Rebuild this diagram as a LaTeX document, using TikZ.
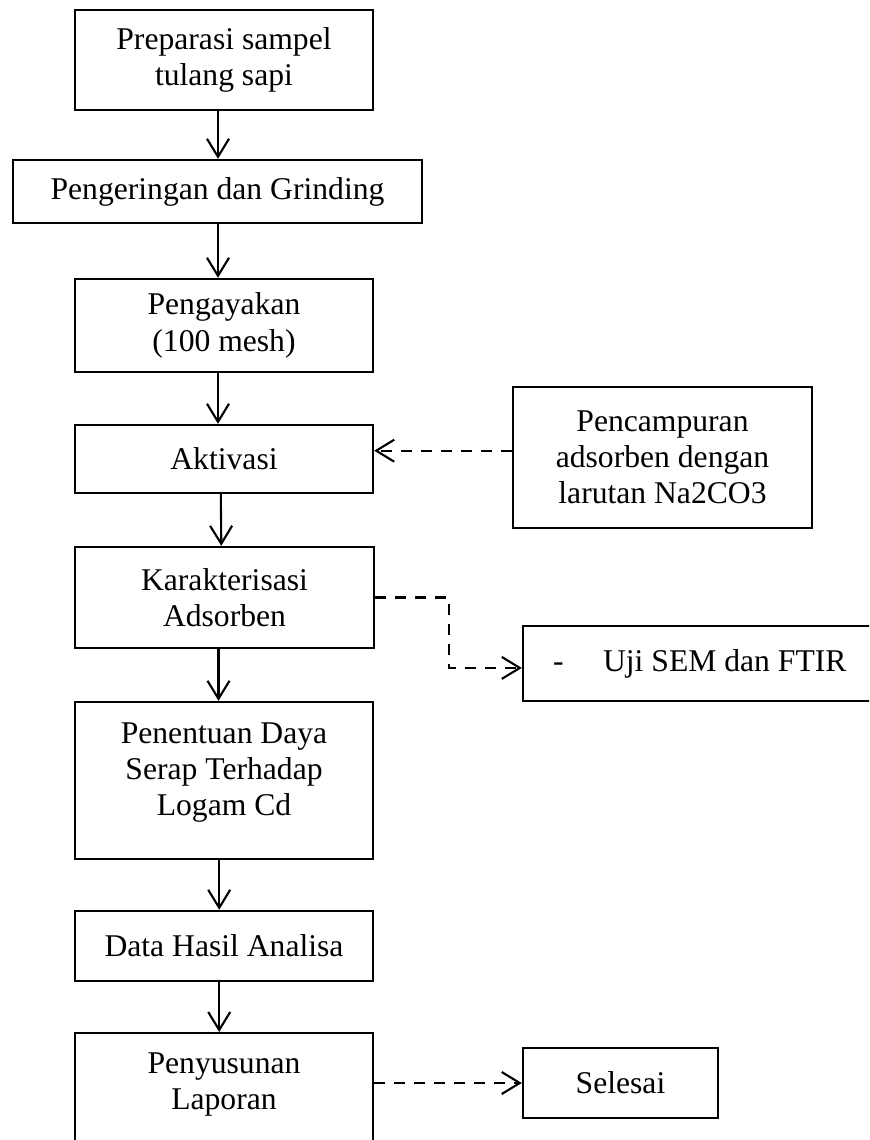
\documentclass[tikz,border=0pt]{standalone}
\usepackage{fontspec}
\setmainfont{Liberation Serif}
\usetikzlibrary{
		arrows.meta,
		positioning
	}
\tikzset{
		>={Straight Barb[length=0.45cm,width=0.55cm]},
		box/.style={draw, line width=1.7pt, align=center, inner sep=0pt,
			font=\fontsize{22.5}{25.8}\selectfont},
		flow/.style={->, line width=1.5pt},
		side/.style={->, line width=1.5pt, dash pattern=on 0.28cm off 0.22cm}
	}

\begin{document}
\begin{tikzpicture}
              \useasboundingbox (0,0) rectangle (21.725,-28.5);
              \clip (0,0) rectangle (21.725,-28.5);

              % the main steps
              \node[box, minimum width=7.45cm, minimum height=2.5cm] (prep) at (5.6,-1.5) {Preparasi sampel\\tulang sapi};
              \node[box, minimum width=10.225cm, minimum height=1.575cm] (grind) at (5.4375,-4.7875) {Pengeringan dan Grinding};
              \node[box, minimum width=7.45cm, minimum height=2.325cm] (ayak) at (5.6,-8.1375) {Pengayakan\\(100 mesh)};
              \node[box, minimum width=7.45cm, minimum height=1.7cm] (aktiv) at (5.6,-11.475) {Aktivasi};
              \node[box, minimum width=7.475cm, minimum height=2.525cm] (karak) at (5.6125,-14.9375) {Karakterisasi\\Adsorben};
              \node[box, minimum width=7.45cm, minimum height=3.925cm, text depth=16pt] (daya) at (5.6,-19.5125) {Penentuan Daya\\Serap Terhadap\\Logam Cd};
              \node[box, minimum width=7.45cm, minimum height=1.75cm] (data) at (5.6,-23.65) {Data Hasil Analisa};
              \node[box, anchor=north, minimum width=7.45cm, minimum height=3.5cm, text depth=31pt] (susun) at (5.6,-25.8) {Penyusunan\\Laporan};

              % the side boxes
              \node[box, minimum width=7.475cm, minimum height=3.525cm] (campur) at (16.5625,-11.4375) {Pencampuran\\adsorben dengan\\larutan Na2CO3};
              \node[box, minimum width=10cm, minimum height=1.875cm, text width=8.5cm, align=flush left] (uji) at (18.075,-16.5875) {-\hspace{0.99cm}Uji SEM dan FTIR};
              \node[box, minimum width=4.875cm, minimum height=1.75cm] (selesai) at (15.5125,-27.075) {Selesai};

              % draw the arrows
              \draw[flow] ([xshift=-0.15cm]prep.south) -- ([xshift=-0.15cm]prep.south |- grind.north);
              \draw[flow] ([xshift=-0.15cm]prep.south |- grind.south) -- ([xshift=-0.15cm]ayak.north);
              \draw[flow] ([xshift=-0.15cm]ayak.south) -- ([xshift=-0.15cm]aktiv.north);
              \draw[flow] ([xshift=-0.08cm]aktiv.south) -- ([xshift=-0.08cm]karak.north);
              \draw[flow] ([xshift=-0.15cm]karak.south) -- ([xshift=-0.15cm]karak.south |- daya.north);
              \draw[flow] ([xshift=-0.12cm]daya.south) -- ([xshift=-0.12cm]data.north);
              \draw[flow] ([xshift=-0.12cm]data.south) -- ([xshift=-0.12cm]susun.north);

              % the dashed ones
              \draw[side] ([yshift=0.17cm]campur.west) -- ([yshift=0.17cm]campur.west -| aktiv.east);
              \draw[side] (karak.east) -- ++(1.85,0) |- ([yshift=-0.11cm]uji.west);
              \draw[side] (selesai.west -| susun.east) -- (selesai.west);

\end{tikzpicture}
\end{document}
